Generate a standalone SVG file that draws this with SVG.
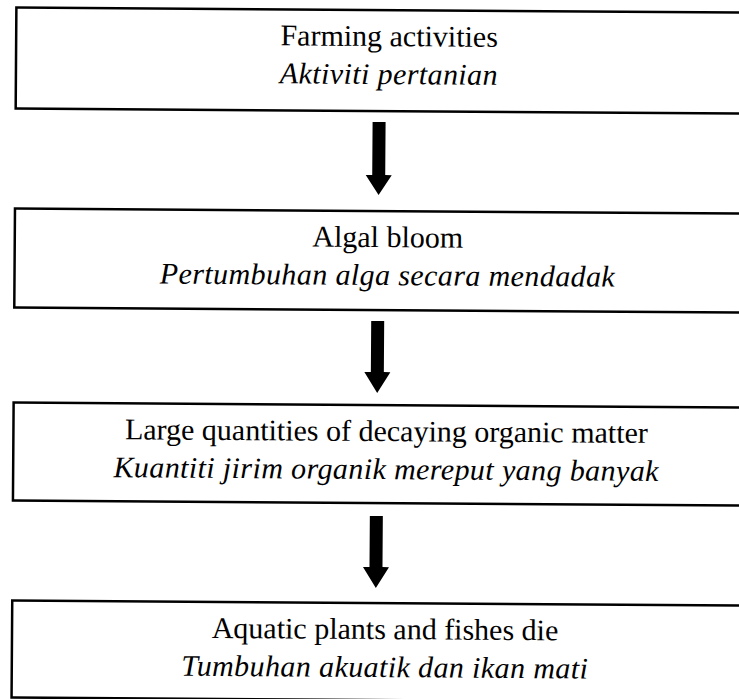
<svg xmlns="http://www.w3.org/2000/svg" width="739" height="699" viewBox="0 0 739 699">
<style>
.box{fill:#fff;stroke:#000;stroke-width:2.5}
.t{font-family:"Liberation Serif","Times New Roman",serif;font-size:30px;fill:#000;text-anchor:middle}
.i{font-style:italic;letter-spacing:0.4px}
.arrow{fill:#000}
</style>
<rect width="739" height="699" fill="#fff"/>
<g transform="rotate(0.4 370 350)">
<g id="node1">
<rect class="box" x="14" y="10" width="760" height="101"/>
<text class="t" x="387" y="46">Farming activities</text>
<text class="t i" x="387" y="84">Aktiviti pertanian</text>
</g>
<g id="node2">
<rect class="box" x="14" y="211" width="760" height="99"/>
<text class="t" x="387" y="247">Algal bloom</text>
<text class="t i" x="387" y="285">Pertumbuhan alga secara mendadak</text>
</g>
<g id="node3">
<rect class="box" x="14" y="405" width="760" height="98"/>
<text class="t" x="387" y="441">Large quantities of decaying organic matter</text>
<text class="t i" x="387" y="479">Kuantiti jirim organik mereput yang banyak</text>
</g>
<g id="node4">
<rect class="box" x="14" y="603" width="760" height="97"/>
<text class="t" x="387" y="639">Aquatic plants and fishes die</text>
<text class="t i" x="387" y="677">Tumbuhan akuatik dan ikan mati</text>
</g>
<g id="connectors">
<path class="arrow" d="M371 122 H384 V175 H390.5 L377.5 195 L364.5 175 H371 Z"/>
<path class="arrow" d="M371 321 H384 V372 H390.5 L377.5 393 L364.5 372 H371 Z"/>
<path class="arrow" d="M371 516 H384 V567 H390.5 L377.5 588 L364.5 567 H371 Z"/>
</g>
</g>
</svg>
